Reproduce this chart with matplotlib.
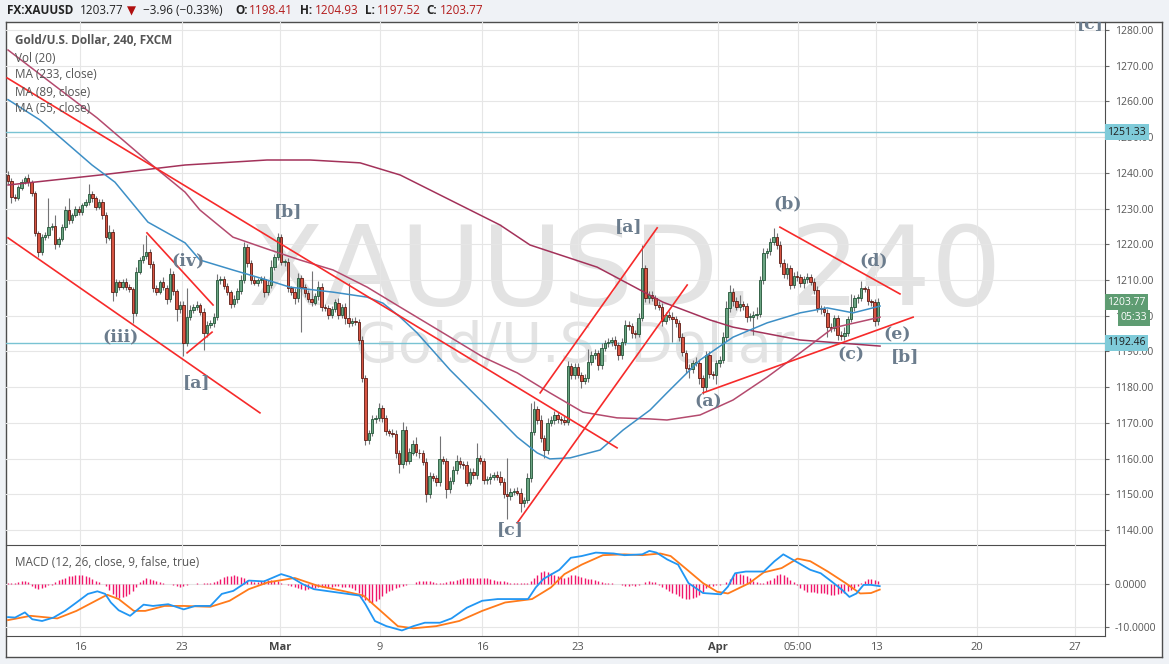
import numpy as np
import matplotlib
matplotlib.use('Agg')
import matplotlib.pyplot as plt

plt.rcParams['font.family'] = ['Open Sans', 'DejaVu Sans']

# --- 4h candles (open = previous close) ---
first_open = 1239.4
closes = [
    1237.7, 1233.3, 1233.0, 1235.9, 1237.5, 1238.5, 1237.4, 1234.3, 1223.1, 1217.9,
    1222.1, 1222.5, 1224.9, 1225.1, 1220.0, 1221.5, 1224.9, 1229.6, 1226.8, 1228.2,
    1229.8, 1229.1, 1231.0, 1231.8, 1234.0, 1232.9, 1230.5, 1231.8, 1228.2, 1221.9,
    1223.5, 1206.6, 1209.4, 1208.1, 1209.4, 1208.1, 1207.5, 1200.7, 1212.2, 1215.5,
    1216.8, 1217.8, 1214.6, 1207.7, 1206.6, 1209.4, 1207.9, 1204.7, 1211.6, 1206.9,
    1201.9, 1203.0, 1192.5,
    1199.7, 1201.5, 1202.5, 1203.0, 1201.1, 1195.1, 1197.4, 1197.9, 1199.7, 1210.0,
    1210.2, 1208.3, 1206.7, 1203.3, 1204.6, 1206.9, 1210.0, 1219.2, 1214.7, 1210.0,
    1209.3, 1209.9, 1210.2, 1206.7, 1208.6, 1213.7, 1216.5, 1222.1, 1215.1, 1215.1,
    1207.7, 1206.7, 1204.9, 1210.5, 1208.1, 1206.3, 1204.6, 1203.7, 1205.5, 1208.1,
    1202.5, 1202.1, 1200.2, 1202.0, 1203.7, 1200.2, 1202.5, 1199.3, 1197.9, 1198.6,
    1198.3, 1193.2, 1182.5, 1165.2,
    1167.1, 1171.0, 1171.3, 1174.1, 1171.3, 1167.6, 1167.2, 1167.0, 1161.5, 1158.5,
    1168.0, 1159.4, 1161.7, 1164.1, 1161.7, 1161.5, 1159.1, 1150.1, 1155.0, 1154.5,
    1153.4, 1159.8, 1159.4, 1151.4, 1153.6, 1156.8, 1159.4, 1158.5, 1158.2, 1153.3,
    1156.3, 1155.4, 1160.1, 1159.4, 1154.0, 1154.2, 1154.8, 1155.4, 1154.9, 1153.5,
    1150.1, 1149.5, 1150.7, 1151.0, 1150.5, 1147.5, 1148.4, 1154.5, 1167.5,
    1173.8, 1170.8, 1165.7, 1162.4, 1169.9, 1170.8, 1172.2, 1171.0, 1170.8, 1170.3,
    1185.9, 1183.4, 1185.7, 1183.4, 1181.8, 1182.5, 1187.1, 1189.0, 1189.5, 1186.2,
    1190.9, 1192.3, 1192.7, 1193.2, 1191.8, 1189.0, 1192.7, 1197.4, 1197.1, 1195.1,
    1194.9, 1199.5, 1213.3, 1204.9,
    1205.8, 1204.9, 1203.0, 1202.5, 1198.6, 1200.2, 1199.6, 1199.0, 1197.9, 1194.1,
    1189.7, 1185.3, 1185.0, 1186.7, 1186.9, 1182.5, 1180.0,
    1189.0, 1183.7, 1183.4, 1186.7, 1187.6, 1194.0, 1202.1, 1206.7, 1204.0, 1202.4,
    1203.2, 1202.7, 1199.7, 1199.7, 1200.2, 1200.4, 1210.0, 1217.5, 1218.0, 1220.7,
    1222.1, 1219.8, 1214.7, 1211.6, 1213.3, 1208.6, 1211.0, 1210.8, 1209.1, 1210.2,
    1210.8, 1209.5, 1207.2, 1202.1, 1201.8, 1200.9, 1196.8, 1196.5, 1199.3, 1194.6,
    1194.3, 1195.3, 1199.0, 1202.4, 1204.9, 1205.0, 1207.7, 1207.4, 1204.0, 1203.8,
    1198.4, 1203.77,
]
wick_up = [
    1.0, 0.8, 0.9, 0.6, 0.8, 0.5, 1.2, 0.7, 0.6, 0.5,
    0.9, 1.0, 8.0, 0.8, 3.0, 0.6, 0.8, 1.0, 3.3, 0.7,
    1.0, 0.8, 0.6, 0.9, 2.8, 1.0, 0.6, 0.8, 1.0, 0.9,
    2.0, 0.8, 1.0, 0.6, 0.8, 1.2, 0.7, 0.6, 1.5, 0.9,
    3.4, 4.8, 1.0, 0.8, 1.0, 0.6, 1.5, 0.8, 1.7, 0.8,
    0.7, 1.2, 1.0, 8.0, 1.5, 0.8, 1.0, 0.6, 1.0, 1.2,
    0.8, 1.0, 1.6, 0.8, 1.0, 0.8, 0.6, 1.2, 0.8, 1.5,
    1.4, 0.8, 1.0, 1.2, 0.6, 0.8, 1.0, 1.5, 2.0, 0.8,
    1.0, 0.8, 0.8, 1.2, 0.6, 1.0, 1.4, 0.8, 0.8, 1.0,
    8.0, 1.0, 1.5, 1.2, 0.8, 1.0, 0.8, 1.0, 1.2, 0.8,
    1.0, 10.0, 0.8, 1.0, 0.8, 1.0, 1.0, 0.8, 1.2, 1.0,
    1.5, 0.8, 1.0, 0.8, 1.2, 1.0, 0.8, 2.3, 1.0, 1.2,
    1.0, 2.0, 1.0, 0.8, 1.0, 1.2, 1.0, 0.8, 6.5, 1.0,
    0.8, 1.2, 1.0, 1.5, 1.0, 0.8, 1.0, 1.2, 1.0, 4.3,
    1.0, 0.8, 1.0, 1.2, 0.8, 1.0, 1.5, 1.0, 10.0, 1.0,
    0.8, 1.0, 1.2, 0.8, 1.5, 8.0, 2.2, 1.0, 1.5, 1.0,
    1.5, 1.0, 1.2, 0.8, 1.0, 1.0, 1.5, 1.0, 1.2, 1.0,
    0.8, 1.2, 3.5, 1.0, 1.2, 0.8, 1.5, 1.0, 1.2, 0.8,
    1.0, 0.8, 1.2, 1.5, 1.0, 0.8, 1.0, 1.2, 6.5, 1.0,
    1.0, 1.2, 0.8, 1.0, 1.2, 0.8, 1.0, 1.5, 0.8, 1.0,
    1.0, 0.8, 1.2, 1.0, 1.5, 0.8, 1.0, 1.2, 1.0, 0.8,
    1.0, 1.2, 1.5, 2.0, 1.9, 1.0, 1.2, 2.5, 1.0, 0.8,
    1.0, 1.0, 2.0, 1.2, 1.5, 1.0, 1.0, 2.4, 1.0, 1.0,
    1.2, 1.5, 1.0, 1.2, 1.5, 0.8, 1.0, 1.2, 0.8, 1.0,
    1.2, 0.8, 1.0, 1.0, 1.2, 1.0, 0.8, 1.0, 1.5, 1.0,
    3.6, 1.0, 1.2, 2.0, 0.5, 1.0, 0.8, 1.0, 1.16,
]
wick_dn = [
    0.8, 1.8, 1.0, 0.6, 0.8, 0.6, 1.0, 0.8, 0.8, 1.4,
    1.0, 0.8, 0.6, 1.0, 1.2, 0.8, 0.6, 0.8, 1.0, 0.8,
    0.6, 1.0, 0.8, 0.6, 0.8, 1.0, 0.8, 0.6, 1.0, 1.5,
    0.8, 2.6, 1.0, 0.8, 0.6, 1.0, 0.8, 2.8, 0.8, 0.6,
    0.8, 1.0, 1.2, 1.0, 0.8, 0.6, 0.8, 1.5, 0.8, 1.0,
    3.4, 1.0, 3.9, 1.0, 0.8, 0.6, 0.8, 1.0, 4.7, 1.0,
    0.8, 1.0, 0.8, 1.2, 0.8, 1.0, 1.2, 0.8, 1.0, 0.8,
    0.8, 1.0, 1.2, 0.8, 1.0, 0.8, 1.5, 1.0, 0.8, 1.0,
    0.8, 1.0, 1.2, 1.0, 0.8, 1.5, 1.0, 12.6, 1.0, 0.8,
    1.0, 0.8, 1.0, 1.2, 0.8, 1.0, 0.8, 1.0, 1.2, 0.8,
    1.5, 1.0, 0.8, 1.0, 1.2, 1.0, 1.5, 1.0, 0.8, 1.0,
    0.8, 1.0, 1.0, 0.8, 1.0, 1.2, 2.6, 1.0, 1.2, 1.0,
    0.8, 1.0, 1.2, 1.0, 2.2, 1.0, 0.8, 1.2, 1.0, 0.8,
    2.4, 1.0, 0.8, 1.0, 1.2, 1.0, 1.0, 0.8, 1.2, 1.0,
    0.8, 1.0, 1.0, 1.2, 0.8, 1.0, 1.0, 1.2, 6.5, 1.0,
    1.0, 0.8, 2.5, 1.0, 0.8, 1.0, 1.0, 1.2, 1.0, 2.2,
    1.0, 0.8, 1.2, 1.0, 1.0, 0.8, 1.0, 1.2, 1.0, 0.8,
    2.0, 1.0, 1.0, 0.8, 1.2, 1.5, 1.0, 0.8, 1.0, 1.2,
    1.0, 1.5, 1.0, 0.8, 1.0, 1.2, 1.0, 0.8, 1.0, 1.0,
    1.2, 0.8, 1.0, 1.0, 1.5, 1.0, 0.8, 6.3, 1.0, 1.2,
    1.0, 1.2, 2.5, 1.0, 0.8, 1.5, 2.0, 1.0, 1.2, 1.0,
    2.5, 1.0, 0.8, 1.0, 1.0, 1.2, 0.8, 1.0, 1.0, 1.5,
    1.2, 5.0, 1.0, 0.8, 1.0, 1.2, 1.0, 1.0, 1.2, 1.0,
    1.0, 1.2, 1.0, 0.8, 1.0, 1.0, 1.2, 1.0, 0.8, 1.0,
    1.0, 1.2, 1.0, 2.8, 1.0, 0.8, 1.5, 1.2, 1.0, 1.0,
    0.8, 1.0, 1.2, 1.0, 0.8, 1.0, 1.0, 1.2, 0.89,
]

# moving averages, read at anchor bars
ma55_bars = [0, 9.5, 24.9, 31.7, 41.5, 52.5, 56.9, 66.7, 76.8, 83.6, 96.4, 106.5, 111.2,
             116.3, 121.3, 131.1, 140.9, 151, 156.9, 160.7, 166.7, 175.6, 182.4, 190.4,
             195.4, 205.2, 215, 225.1, 234.9, 242.9, 250.6, 258.6]
ma55_vals = [1260.5, 1254.8, 1242.2, 1237.4, 1226.2, 1220.4, 1215.6, 1212.8, 1210.0, 1208.0,
             1206.6, 1205.2, 1203.5, 1199.6, 1195.2, 1184.8, 1175.6, 1166.0, 1161.6, 1159.9,
             1160.2, 1162.4, 1168.0, 1173.6, 1178.4, 1187.6, 1194.0, 1198.0, 1200.8, 1202.2,
             1200.8, 1202.7]
ma89_bars = [0, 26.4, 42.7, 52.5, 56.9, 66.7, 76.8, 86.6, 96.4, 106.5, 116.3, 131.1, 140.9,
             151, 160.7, 170.5, 180.6, 190.4, 195.4, 205.2, 215, 225.1, 234.9, 244.7, 258.6]
ma89_vals = [1274.4, 1255.4, 1242.2, 1234.6, 1229.6, 1222.0, 1218.7, 1215.6, 1212.8, 1208.0,
             1202.4, 1194.0, 1188.4, 1184.0, 1178.4, 1173.0, 1171.4, 1171.1, 1170.8, 1172.2,
             1176.4, 1182.8, 1189.6, 1196.6, 1199.6]
ma233_bars = [0, 27.3, 52.5, 76.8, 89.6, 104.4, 116.3, 131.1, 145.9, 154.8, 174.7, 194.2,
              208.2, 215, 234.9, 258.6]
ma233_vals = [1236.6, 1239.4, 1242.2, 1243.6, 1243.6, 1242.8, 1239.4, 1232.4, 1225.4, 1219.8,
              1213.6, 1203.8, 1198.8, 1196.8, 1193.2, 1191.5]

# MACD (12, 26, 9)
macd_bars = [0, 2.1, 5, 7.2, 10.1, 13.5, 16.9, 20.3, 23.7, 26.5, 28.8, 30.5, 32.8, 36.2, 40.2,
             43, 47.5, 52.1, 55.5, 60, 63.4, 66.8, 71.4, 75.9, 81, 83.9, 87.3, 90.7, 95.2,
             99.8, 104.3, 106, 108.8, 112.2, 116.8, 120.2, 123.6, 128.1, 131.5, 136.1, 140.6,
             145.2, 154.2, 156.5, 158.8, 163.5, 166.9, 170.1, 174.3, 179.6, 182.8, 188.1,
             190.2, 192.3, 195.5, 198.7, 201.8, 206.1, 211.4, 213.5, 215.6, 218.8, 224.1,
             227.3, 229.9, 232.6, 237.9, 241, 244.2, 247.4, 249.5, 251.6, 253.7, 255.9, 258.5]
macd_vals = [-7.7, -7.8, -6.6, -8.2, -8.6, -7.8, -6.25, -4.3, -2.3, -1.7, -2.3, -4.3, -6.1,
             -7.4, -4.8, -5.1, -4.7, -5.9, -5.1, -5.1, -2.3, -1.6, 0.8, 0.6, 2.3, 1.6, 0.0,
             -1.2, -1.7, -2.2, -2.7, -4.7, -8.6, -9.8, -10.8, -9.8, -9.0, -9.0, -8.0, -5.5,
             -3.9, -3.5, -3.5, -0.8, 1.2, 3.3, 6.1, 6.5, 7.3, 7.1, 6.7, 6.9, 7.7, 7.3, 5.7,
             4.5, 0.2, -2.1, -2.4, -0.6, 2.5, 2.9, 2.9, 5.3, 6.9, 5.7, 3.3, 2.5, 0.6, -1.4,
             -3.0, -2.2, -0.2, -0.2, -0.5]
sig_bars = [0, 6.7, 14.6, 20.3, 26, 29.4, 32.8, 37.3, 40.7, 46.4, 52.1, 60, 65.7, 71.4, 77.1,
            85, 91.8, 99.8, 105.4, 110, 115.6, 120.2, 127, 133.8, 140.6, 147.4, 155.4, 161,
            165, 170.1, 176.4, 182.8, 188.1, 193.4, 196.5, 200.8, 206.1, 210.3, 213.5, 219.8,
            224.1, 229.4, 234.1, 237.9, 243.1, 248.4, 252.7, 255.9, 258.5]
sig_vals = [-8.4, -7.4, -8.0, -6.25, -3.9, -2.5, -3.5, -6.25, -6.25, -5.1, -5.1, -5.3, -3.9,
            -1.2, 0.4, 1.4, -0.4, -1.7, -2.7, -5.9, -9.8, -10.3, -9.8, -8.6, -6.25, -4.3, -3.5,
            -0.8, 2.3, 4.5, 6.7, 6.9, 6.7, 7.1, 6.5, 3.7, 0.2, -1.8, -2.2, 0.2, 2.7, 3.7, 5.9,
            5.3, 2.9, 0.2, -2.2, -2.1, -1.3]
hist = [
    0.3, 0.2, 0.3, 0.5, 0.6, 0.6, 0.4,
    -0.5, -1.0, -1.1, -0.9, -0.6, -0.3, -0.3,
    0.5, 0.9, 1.2, 1.5, 1.8, 1.9, 2.0, 2.0, 2.0, 1.9, 1.6, 1.2, 0.8, 0.4, 0.1,
    -0.5, -1.5, -2.4, -3.0, -3.2, -3.1, -2.8, -2.3, -1.6, -0.8,
    0.4, 1.0, 1.4, 1.2, 0.9, 0.6, 0.4,
    0.2, 0.1, -0.1, -0.3, -0.5, -0.6, -0.5, -0.3, -0.1, 0.1, 0.2, 0.1, 0.2, 0.3, 0.3, 0.5,
    0.8, 1.2, 1.6, 1.8, 1.9, 2.0, 1.9, 1.6, 1.3, 0.9, 0.6,
    0.4, 0.5, 0.8, 1.0, 1.0, 0.9, 0.8, 0.6, 0.3, 0.1, -0.2, -0.4,
    -0.7, -1.0, -1.2, -1.3, -1.2, -1.0, -0.9, -0.8, -0.7, -0.7, -0.6, -0.6, -0.5, -0.5,
    -0.6, -0.7, -0.8, -1.0, -1.5, -2.2, -3.0,
    -3.8, -4.3, -4.5, -4.0, -3.4, -2.8, -2.2, -1.7, -1.3, -1.0, -0.7, -0.5, -0.3, -0.1, 0.1,
    0.4, 0.6, 0.8, 0.8, 0.6, 0.4, 0.3, 0.3, 0.3, 0.4, 0.6, 0.8, 1.0, 1.2, 1.4, 1.5, 1.5,
    1.4, 1.3, 1.3, 1.4, 1.3, 1.1, 0.9, 0.8, 0.7, 0.6, 0.5, 0.3, 0.2, 0.2, 0.2, 0.2, 0.3,
    0.8, 1.5, 2.2, 2.8, 3.0, 2.8, 2.5, 2.1, 1.8,
    1.8, 1.5, 1.7, 2.0, 2.0, 1.8, 1.6, 1.4,
    1.2, 1.1, 1.0, 0.8, 0.5, 0.3, 0.2, 0.2, 0.1, 0.1,
    -0.3, -0.5, -0.4, -0.3, -0.4, -0.3, -0.1,
    0.4, 0.6, 0.5, 0.4,
    -0.2, -0.6, -1.1, -1.6, -2.0, -2.4, -2.8, -3.2, -3.5, -3.6, -3.3, -3.0, -2.5, -1.8, -1.0,
    -0.6, -0.5, -0.3, -0.2, -0.1,
    0.5, 1.2, 2.0, 2.5, 2.4, 2.2, 1.8, 1.3, 0.8, 0.4, 0.2,
    0.3, 0.6, 1.0, 1.5, 2.0, 2.3, 2.2, 1.7, 1.0, 0.4,
    -0.3, -1.0, -1.5, -1.8, -1.8, -1.9, -2.0, -2.0, -2.1, -2.3, -2.5, -2.5, -2.4, -2.2, -2.0,
    -1.7, -1.4, -1.0, -0.5,
    0.3, 0.8, 1.1, 1.2, 0.9, 0.6,
]

tick_pos = [21.4, 51.6, 80.7, 110.3, 140.6, 169.0, 210.6, 234.3, 257.4, 287.4, 316.4]
tick_labels = ['16', '23', 'Mar', '9', '16', '23', 'Apr', '05:00', '13', '20', '27']
price_ticks = list(range(1140, 1290, 10))

# drawn trend lines (bar, price)
trend_lines = [
    ((0, 1221.8), (74.7, 1172.8)),
    ((-0.3, 1266.6), (180.6, 1163.0)),
    ((41.2, 1223.2), (60.8, 1203.0)),
    ((53.1, 1189.6), (60.5, 1195.4)),
    ((157.8, 1178.4), (192.5, 1224.6)),
    ((151.0, 1142.0), (201.4, 1208.6)),
    ((206.1, 1178.4), (268.4, 1199.6)),
    ((228.9, 1224.8), (264.5, 1206.1)),
]
wave_labels = [
    ('[b]', 83.0, 1229.3), ('(iv)', 53.4, 1215.3), ('(iii)', 33.5, 1194.0),
    ('[a]', 56.0, 1181.2), ('[a]', 183.9, 1225.1), ('[c]', 148.9, 1140.0),
    ('(b)', 231.3, 1231.3), ('(d)', 256.8, 1215.3), ('(a)', 207.6, 1175.8),
    ('(c)', 250.0, 1189.0), ('(e)', 263.6, 1194.6), ('[b]', 266.0, 1188.7),
    ('[c]', 320.9, 1281.9),
]
hlines = [1251.33, 1192.46]

# ---------------- figure ----------------
W, H = 1169, 664
fig = plt.figure(figsize=(W / 100, H / 100), dpi=100, facecolor='#eff2f6')


def box(x0, y0, x1, y1):
    return [x0 / W, 1 - y1 / H, (x1 - x0) / W, (y1 - y0) / H]


frame = '#4d4d4d'
bg = fig.add_axes(box(6, 22, 1162, 657))
bg.set_facecolor('white')
bg.set_xticks([])
bg.set_yticks([])
for s in bg.spines.values():
    s.set_color(frame)
    s.set_linewidth(1)

ax = fig.add_axes(box(6, 22, 1105, 545))
axm = fig.add_axes(box(6, 545, 1105, 636), sharex=ax)
for a in (ax, axm):
    a.set_facecolor('none')
    a.spines['top'].set_visible(False)
    a.spines['left'].set_visible(False)
    a.spines['right'].set_color(frame)
    a.spines['bottom'].set_color(frame)
    a.yaxis.tick_right()
    a.tick_params(axis='y', length=3, color='#666', labelsize=7.5, labelcolor='#555', pad=4)
    a.grid(True, color='#e6e6e6', lw=0.8)
    a.set_axisbelow(True)

ax.set_xlim(-0.6, 325.3)
ax.set_ylim(1135.8, 1282.24)
ax.set_yticks(price_ticks)
ax.set_yticklabels(['%.2f' % p for p in price_ticks])
ax.set_xticks(tick_pos)
ax.tick_params(axis='x', length=0, labelbottom=False)

# watermark
ax.text(0.563, 0.459, 'XAUUSD, 240', transform=ax.transAxes, fontsize=80,
        family='DejaVu Sans', color='#e3e3e3', ha='center', va='baseline', zorder=0.5)
ax.text(0.518, 0.35, 'Gold/U.S. Dollar', transform=ax.transAxes, fontsize=40,
        family='DejaVu Sans', color='#e3e3e3', ha='center', va='baseline', zorder=0.5)

# candles
c = np.array(closes)
o = np.r_[first_open, c[:-1]]
hi = np.maximum(o, c) + np.array(wick_up)
lo = np.minimum(o, c) - np.array(wick_dn)
x = np.arange(len(c))
up = c >= o
body = c - o
body = np.where(np.abs(body) < 0.25, np.where(up, 0.25, -0.25), body)
ax.vlines(x, lo, hi, color='#737375', lw=0.8, zorder=3)
ax.bar(x[up], body[up], bottom=o[up], width=0.72, color='#6ba583',
       edgecolor='#225437', lw=0.6, zorder=4)
ax.bar(x[~up], body[~up], bottom=o[~up], width=0.72, color='#d75442',
       edgecolor='#5b1a13', lw=0.6, zorder=4)

# moving averages
ax.plot(ma233_bars, ma233_vals, color='#a3325a', lw=1.1, zorder=5)
ax.plot(ma89_bars, ma89_vals, color='#b44a6e', lw=1.1, zorder=5)
ax.plot(ma55_bars, ma55_vals, color='#3d8fc6', lw=1.1, zorder=5)

for h in hlines:
    ax.axhline(h, color='#79c3d3', lw=1, zorder=2)

for (x0, y0), (x1, y1) in trend_lines:
    ax.plot([x0, x1], [y0, y1], color='#f62a2a', lw=1.2, zorder=6)

for txt, bx, py in wave_labels:
    ax.text(bx, py, txt, fontsize=12.5, family='DejaVu Serif', weight='bold',
            color='#6b7c8d', ha='center', va='center', zorder=7, clip_on=True)

# price tags on the right axis
ytr = ax.get_yaxis_transform()
for h in hlines:
    ax.text(1.002, h, '%.2f' % h, transform=ytr, fontsize=7.5, color='#1d1d1d',
            va='center', ha='left', zorder=10, clip_on=False,
            bbox=dict(boxstyle='square,pad=0.25', fc='#7fcbd9', ec='none'))
ax.text(1.002, 1203.77, '1203.77', transform=ytr, fontsize=7.5, color='white',
        va='center', ha='left', zorder=10, clip_on=False,
        bbox=dict(boxstyle='square,pad=0.25', fc='#5e9c72', ec='none'))
ax.text(1.0145, 1199.4, '05:33', transform=ytr, fontsize=7.5, color='white',
        va='center', ha='left', zorder=10, clip_on=False,
        bbox=dict(boxstyle='square,pad=0.25', fc='#5e9c72', ec='none'))

# legend texts
fig.text(15 / W, 1 - 41 / H, 'Gold/U.S. Dollar, 240, FXCM', fontsize=8.5, weight='bold',
         color='#555555', va='center')
for i, s in enumerate(['Vol (20)', 'MA (233, close)', 'MA (89, close)', 'MA (55, close)']):
    fig.text(15 / W, 1 - (58 + 17 * i) / H, s, fontsize=8.5, color='#555555', va='center')

# MACD panel
axm.set_ylim(-12.09, 9.07)
axm.set_yticks([0, -10])
axm.set_yticklabels(['0.0000', '-10.0000'])
axm.vlines(x, 0, hist, color='#f0156a', lw=1.0, zorder=3)
axm.plot(sig_bars, sig_vals, color='#ff7a1a', lw=1.3, zorder=4)
axm.plot(macd_bars, macd_vals, color='#2196f3', lw=1.3, zorder=5)
axm.set_xticks(tick_pos)
axm.set_xticklabels(tick_labels)
axm.tick_params(axis='x', length=0, pad=4, labelsize=8, labelcolor='#555555')
for lab in axm.get_xticklabels():
    if lab.get_text() in ('Mar', 'Apr'):
        lab.set_fontweight('bold')
        lab.set_color('#444444')
fig.text(15 / W, 1 - 563 / H, 'MACD (12, 26, close, 9, false, true)', fontsize=8.5,
         color='#555555', va='center')

# header
hy = 1 - 11 / H
fig.text(7 / W, hy, 'FX:XAUUSD', fontsize=8.5, weight='bold', color='#222222', va='center')
fig.text(80 / W, hy, '1203.77', fontsize=8.5, color='#222222', va='center')
fig.text(127 / W, hy, '\u25bc', fontsize=8.5, color='#b01010', va='center')
fig.text(143 / W, hy, '\u22123.96 (\u22120.33%)', fontsize=8.5, color='#222222', va='center')
for lx, lab, vx, val in [(235, 'O:', 249, '1198.41'), (300, 'H:', 315, '1204.93'),
                         (365, 'L:', 377, '1197.52'), (426, 'C:', 440, '1203.77')]:
    fig.text(lx / W, hy, lab, fontsize=8.5, weight='bold', color='#222222', va='center')
    fig.text(vx / W, hy, val, fontsize=8.5, color='#b31b1b', va='center')

fig.savefig('out.png', dpi=100, facecolor=fig.get_facecolor())
